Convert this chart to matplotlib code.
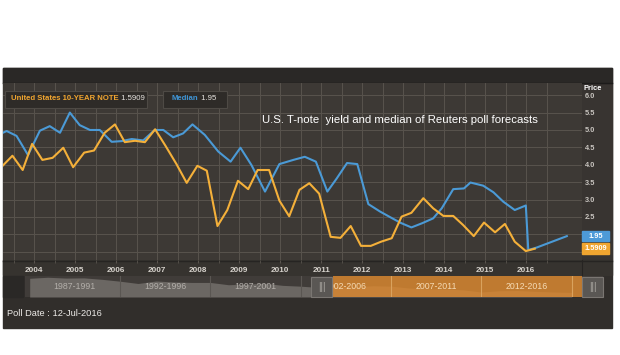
import numpy as np
import matplotlib.pyplot as plt
from matplotlib.patches import Rectangle
from matplotlib.transforms import blended_transform_factory

plt.rcParams['font.family'] = ['Liberation Sans', 'DejaVu Sans']

# data (decimal years)
yield_t = [2003.23, 2003.47, 2003.72, 2003.95, 2004.20, 2004.45, 2004.71, 2004.95,
           2005.22, 2005.46, 2005.72, 2005.97, 2006.21, 2006.46, 2006.70, 2006.95,
           2007.20, 2007.47, 2007.72, 2007.98, 2008.21, 2008.47, 2008.71, 2008.97,
           2009.22, 2009.45, 2009.73, 2009.98, 2010.22, 2010.47, 2010.71, 2010.95,
           2011.23, 2011.47, 2011.72, 2011.97, 2012.21, 2012.46, 2012.72, 2012.96,
           2013.20, 2013.49, 2013.73, 2013.98, 2014.22, 2014.46, 2014.72, 2014.97,
           2015.24, 2015.48, 2015.72, 2015.99, 2016.21]
yield_v = [3.97, 4.26, 3.85, 4.60, 4.14, 4.20, 4.49, 3.93,
           4.35, 4.41, 4.92, 5.16, 4.65, 4.69, 4.65, 5.02,
           4.55, 4.02, 3.48, 3.97, 3.83, 2.24, 2.70, 3.54,
           3.30, 3.85, 3.85, 2.97, 2.52, 3.28, 3.47, 3.17,
           1.93, 1.90, 2.24, 1.67, 1.67, 1.79, 1.89, 2.51,
           2.62, 3.04, 2.75, 2.53, 2.53, 2.27, 1.95, 2.34,
           2.06, 2.30, 1.79, 1.52, 1.59]

median_t = [2003.20, 2003.33, 2003.57, 2003.85, 2004.14, 2004.38, 2004.63, 2004.87,
            2005.11, 2005.36, 2005.60, 2005.89, 2006.13, 2006.38, 2006.66, 2006.94,
            2007.15, 2007.39, 2007.63, 2007.86, 2008.16, 2008.49, 2008.79,
            2009.03, 2009.30, 2009.63, 2009.98, 2010.32, 2010.60, 2010.87,
            2011.15, 2011.38, 2011.63, 2011.88, 2012.15, 2012.43, 2012.72, 2012.94,
            2013.20, 2013.46, 2013.73, 2013.94, 2014.22, 2014.48, 2014.64, 2014.95,
            2015.20, 2015.44, 2015.72, 2015.99, 2016.05, 2016.25, 2016.99]
median_v = [4.90, 4.97, 4.83, 4.28, 4.98, 5.11, 4.92, 5.50,
            5.14, 5.00, 5.00, 4.66, 4.68, 4.74, 4.70, 5.00,
            5.00, 4.79, 4.90, 5.16, 4.86, 4.38, 4.09,
            4.49, 3.99, 3.23, 4.02, 4.14, 4.23, 4.09,
            3.23, 3.61, 4.05, 4.02, 2.87, 2.66, 2.47, 2.33,
            2.20, 2.32, 2.46, 2.75, 3.30, 3.32, 3.49, 3.40,
            3.21, 2.94, 2.70, 2.83, 1.55, 1.62, 1.95]

yield_last = '1.5909'
median_last = '1.95'

years = list(range(2004, 2017))
price_ticks = [1.5, 2.0, 2.5, 3.0, 3.5, 4.0, 4.5, 5.0, 5.5, 6.0]

# long-history strip in the navigator
nav_years = list(range(1987, 2018))
nav_vals = [8.4, 8.9, 8.5, 8.6, 7.9, 7.0, 5.9, 7.1, 6.6, 6.4, 6.4, 5.3, 5.6, 6.0, 5.0,
            4.6, 4.0, 4.3, 4.3, 4.8, 4.6, 3.7, 3.3, 3.2, 2.8, 1.8, 2.4, 2.5, 2.1, 1.8, 1.6]
nav_periods = ['1987-1991', '1992-1996', '1997-2001', '2002-2006', '2007-2011', '2012-2016']

title = 'U.S. T-note  yield and median of Reuters poll forecasts'

YEL = '#f4b03a'
BLU = '#4b9ad6'
W, H = 620, 355


def box(x0, y0, x1, y1):
    return [x0 / W, 1 - y1 / H, (x1 - x0) / W, (y1 - y0) / H]


fig = plt.figure(figsize=(6.2, 3.55), dpi=100)
fig.patch.set_facecolor('white')

# background layer in pixel coords
bg = fig.add_axes([0, 0, 1, 1], zorder=0)
bg.set_xlim(0, W)
bg.set_ylim(H, 0)
bg.axis('off')
bg.add_patch(Rectangle((3, 68), 609, 260, color='#312e2b'))
bg.add_patch(Rectangle((582, 83), 30, 177, color='#383431'))
bg.add_patch(Rectangle((3, 68), 609, 15, color='#2a2826'))
bg.plot([3, 612], [83, 83], color='#1c1b1a', lw=1)
bg.add_patch(Rectangle((3, 260), 609, 15, color='#36332f'))
bg.plot([3, 612], [260.5, 260.5], color='#262422', lw=1)
bg.plot([582, 582], [260, 275], color='#262422', lw=0.8)
bg.add_patch(Rectangle((3, 276), 20, 21, color='#2a2826'))

# main chart
ax = fig.add_axes(box(3, 83, 582, 260), zorder=1)
ax.set_facecolor('#3d3935')
ax.plot(median_t, median_v, color=BLU, lw=1.5, zorder=3)
ax.plot(yield_t, yield_v, color=YEL, lw=1.5, zorder=4)
ax.set_xlim(2003.24, 2017.36)
ax.set_ylim(1.264, 6.35)
ax.set_xticks(years)
ax.set_xticklabels([str(y) for y in years], fontsize=5.9, fontweight='bold', color='#d6d2cc')
ax.set_xticks([y + 0.5 for y in range(2003, 2017)], minor=True)
ax.tick_params(axis='x', which='both', length=2.5, color='#58534d', pad=2.5)
ax.yaxis.tick_right()
ax.set_yticks(price_ticks)
ax.set_yticklabels(['' if p < 2.5 else f'{p:.1f}' for p in price_ticks],
                   fontsize=5.3, fontweight='bold', color='#c9c5c0')
ax.tick_params(axis='y', length=0, pad=2)
ax.grid(which='both', color='#58534d', lw=0.7)
ax.set_axisbelow(True)
for s in ax.spines.values():
    s.set_visible(False)

# last value tags on the price axis
tr = blended_transform_factory(ax.transAxes, ax.transData)
bw, bh = 27 / 579, 10.5 / 34.8
for val, txt, col in [(median_v[-1], median_last, '#4d9ad8'), (yield_v[-1], yield_last, '#f0a530')]:
    ax.add_patch(Rectangle((1.0, val - bh / 2), bw, bh, transform=tr, color=col,
                           clip_on=False, zorder=6))
    ax.text(1.0 + bw / 2, val, txt, transform=tr, ha='center', va='center',
            fontsize=5.3, fontweight='bold', color='white', zorder=7)

# navigator
nav = fig.add_axes(box(25, 276, 603, 297), zorder=2)


def px2nav(x):
    return 1987 + (x - 29.7) / 18.07


nav.set_xlim(px2nav(25), px2nav(603))
nav.set_ylim(-0.6, 9.5)
nav.set_facecolor('#403c39')
nav.fill_between(nav_years, nav_vals, -0.6, color='#6b6763', lw=0, zorder=1)
nav.axvspan(px2nav(333), px2nav(582), color='#e08a2e', alpha=0.8, lw=0, zorder=2)
for i, lab in enumerate(nav_periods):
    start = 1987 + 5 * i
    inside = start >= 2002
    nav.axvline(start + 5, color='#d9a25e' if start + 5 > 2003 else '#5a5652', lw=0.8, zorder=3)
    nav.text(start + 2.5, 4.6, lab, ha='center', va='center', fontsize=6.3,
             color='#f5dbb5' if inside else '#b3afaa', zorder=4)
nav.set_xticks([])
nav.set_yticks([])
for s in nav.spines.values():
    s.set_visible(False)

# top layer: legend boxes, handles, texts
top = fig.add_axes([0, 0, 1, 1], zorder=5)
top.set_xlim(0, W)
top.set_ylim(H, 0)
top.axis('off')
top.patch.set_alpha(0)

top.add_patch(Rectangle((5, 90.5), 142, 17, facecolor='#2e2b28', edgecolor='#4e4a45', lw=0.8))
top.add_patch(Rectangle((163, 90.5), 64, 17, facecolor='#2e2b28', edgecolor='#4e4a45', lw=0.8))
t1 = top.text(11, 99, 'United States 10-YEAR NOTE', color='#f0a530', fontsize=5.6,
              fontweight='bold', va='center')
top.annotate(' ' + yield_last, xy=(1, 0.5), xycoords=t1, va='center', fontsize=5.6,
             color='#e6e3df')
t2 = top.text(172, 99, 'Median', color='#3f95d6', fontsize=5.6, fontweight='bold', va='center')
top.annotate(' ' + median_last, xy=(1, 0.5), xycoords=t2, va='center', fontsize=5.6,
             color='#e6e3df')

top.text(262, 120, title, color='white', fontsize=8.2, va='center')
top.text(584, 88.5, 'Price', color='white', fontsize=5.4, fontweight='bold', va='center')

for hx in (311, 582):
    top.add_patch(Rectangle((hx, 277), 21, 20, facecolor='#5a5754', edgecolor='#7a7672', lw=0.8))
    top.text(hx + 10.5, 287, '|||', ha='center', va='center', fontsize=7, color='#b0aca7')

top.text(7, 313, 'Poll Date : 12-Jul-2016', color='#eceae7', fontsize=6.7, va='center')

fig.savefig('out.png', dpi=100)
